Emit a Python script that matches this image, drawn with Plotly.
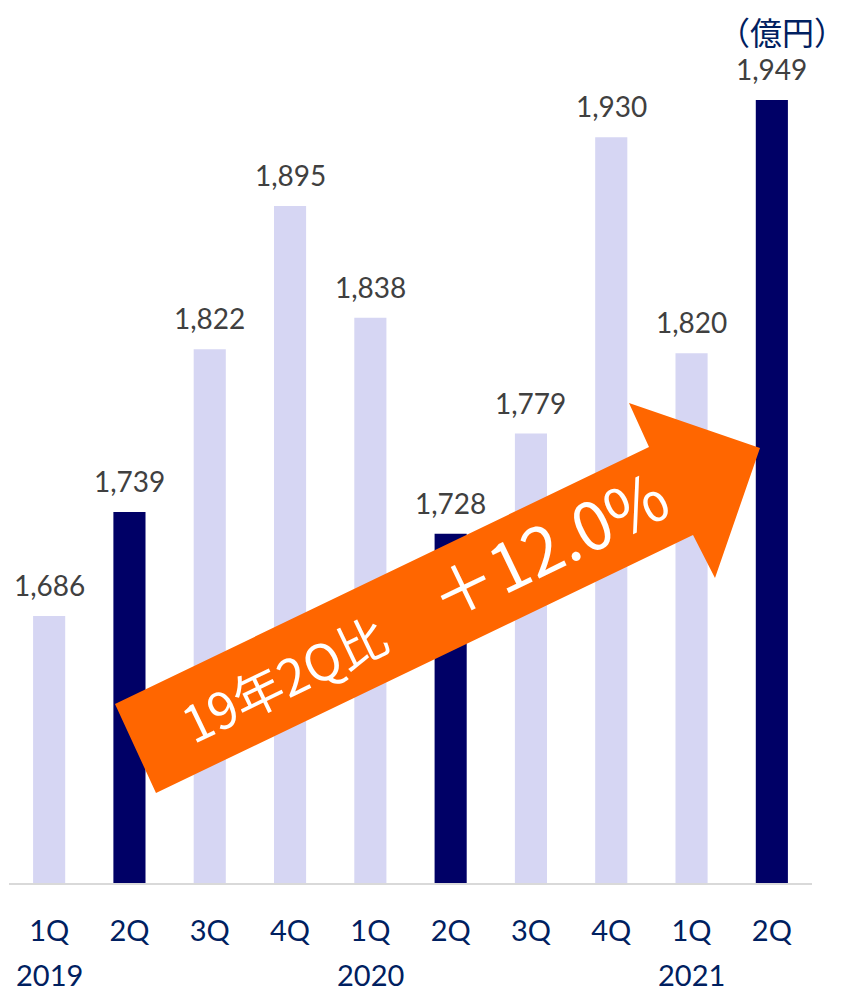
import plotly.graph_objects as go

quarters = ["1Q", "2Q", "3Q", "4Q", "1Q", "2Q", "3Q", "4Q", "1Q", "2Q"]
years = ["2019", "", "", "", "2020", "", "", "", "2021", ""]
values = [1686, 1739, 1822, 1895, 1838, 1728, 1779, 1930, 1820, 1949]
highlight = [False, True, False, False, False, True, False, False, False, True]
unit_label = "（億円）"
arrow_text_1 = "19年2Q比"
arrow_text_2 = "＋12.0%"

LIGHT = "#D6D6F3"
DARK = "#000066"
NAVY = "#002060"
GRAY = "#404040"
ORANGE = "#FF6600"

# page body has an 8px margin; figure coordinates = target pixel - OFF
OFF = 8
W, H = 848 - OFF, 993 - OFF
ML, MR, MT = 9 - OFF, 36, 0
BASE = 883 - OFF  # axis line in figure pixels
MB = H - BASE
PW = W - ML - MR
PH = H - MT - MB
SCALE = 783 / (1949 - 1550)  # px per unit in target
YMIN = 1550
YMAX = YMIN + PH / SCALE

def px(x):
    return (x - OFF - ML) / PW

def py(y):
    return (BASE - (y - OFF)) / PH

x = list(range(len(values)))
colors = [DARK if h else LIGHT for h in highlight]

fig = go.Figure()
fig.add_trace(go.Bar(x=x, y=values, marker=dict(color=colors, line=dict(width=0)),
                     width=0.4, hoverinfo="skip"))

ann = []
for xi, v in zip(x, values):
    ann.append(dict(x=xi, y=v, xref="x", yref="y", text=f"{v:,}", showarrow=False,
                    yanchor="middle", yshift=31,
                    font=dict(family="Lato", size=28, color=GRAY)))
for xi, yr in zip(x, years):
    if yr:
        ann.append(dict(x=xi, y=py(974), xref="x", yref="paper", text=yr, showarrow=False,
                        yanchor="middle", borderpad=0,
                        font=dict(family="Lato", size=29, color=NAVY)))

ann.append(dict(x=px(847), y=py(31), xref="paper", yref="paper", text=unit_label,
                showarrow=False, xanchor="right", yanchor="middle", borderpad=0,
                font=dict(family="Noto Sans CJK JP", size=32, color=NAVY)))

# arrow outline (target pixels)
pts = [(115, 704), (649, 447), (629, 403), (760, 448), (715, 578), (693, 535), (156, 793)]
path = "M " + " L ".join(f"{px(a):.5f},{py(b):.5f}" for a, b in pts) + " Z"
shapes = [dict(type="path", xref="paper", yref="paper", path=path,
               fillcolor=ORANGE, line=dict(width=0), layer="above")]

ann.append(dict(x=px(283), y=py(677), xref="paper", yref="paper", text=arrow_text_1,
                showarrow=False, textangle=-25.7, xanchor="center", yanchor="middle",
                font=dict(family="Noto Sans CJK JP", size=50, color="white")))
ann.append(dict(x=px(546), y=py(543), xref="paper", yref="paper", text=arrow_text_2,
                showarrow=False, textangle=-25.7, xanchor="center", yanchor="middle",
                font=dict(family="Noto Sans CJK JP", size=66, color="white")))

fig.update_layout(
    width=W, height=H, margin=dict(l=ML, r=MR, t=MT, b=MB, pad=0),
    paper_bgcolor="white", plot_bgcolor="white", showlegend=False,
    annotations=ann, shapes=shapes,
    xaxis=dict(tickmode="array", tickvals=x, ticktext=quarters, range=[-0.5, 9.5],
               showline=True, linecolor="#D9D9D9", linewidth=2, showgrid=False,
               ticks="", ticklabelstandoff=21, zeroline=False,
               tickfont=dict(family="Lato", size=29, color=NAVY)),
    yaxis=dict(range=[YMIN, YMAX], visible=False, showgrid=False, zeroline=False),
)
fig.write_html("out.html")
